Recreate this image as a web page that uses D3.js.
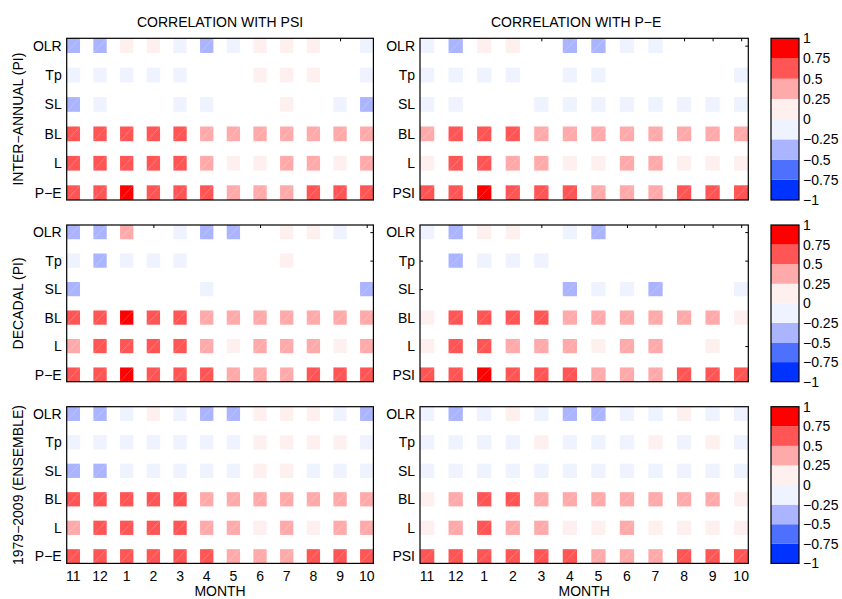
<!DOCTYPE html>
<html>
<head>
<meta charset="utf-8">
<script src="https://cdn.jsdelivr.net/npm/d3@7"></script>
<style>
  body { margin: 0; background: #fff; }
  text { font-family: "Liberation Sans", Arial, sans-serif; fill: #000; }
</style>
</head>
<body>
<svg id="chart" width="842" height="599"></svg>
<script>
// ---- data ----
const months = ["11", "12", "1", "2", "3", "4", "5", "6", "7", "8", "9", "10"];
const rowsPsi = ["OLR", "Tp", "SL", "BL", "L", "P\u2212E"];
const rowsPe = ["OLR", "Tp", "SL", "BL", "L", "PSI"];
const colTitles = ["CORRELATION WITH PSI", "CORRELATION WITH P\u2212E"];
const rowTitles = ["INTER\u2212ANNUAL (PI)", "DECADAL (PI)", "1979\u22122009 (ENSEMBLE)"];
const cbTicks = [1, 0.75, 0.5, 0.25, 0, -0.25, -0.5, -0.75, -1];
const cbColors = ["#0033ff", "#4d70ff", "#aab4ff", "#eff2ff", "#fff0f0", "#ffaaaa", "#ff5555", "#ff0000"];

// correlation values, rows OLR..P-E/PSI, columns months 11..10 (null = blank)
const interPsi = [
  [-0.35, -0.35, 0.1, 0.1, -0.1, -0.35, -0.1, 0.1, 0.1, 0.1, null, -0.1],
  [-0.1, -0.1, -0.1, -0.1, -0.1, null, null, 0.1, 0.1, 0.1, null, -0.1],
  [-0.35, -0.1, null, null, -0.1, -0.1, null, null, 0.1, null, -0.1, -0.35],
  [0.6, 0.6, 0.6, 0.6, 0.6, 0.35, 0.35, 0.35, 0.35, 0.35, 0.35, 0.35],
  [0.6, 0.6, 0.6, 0.6, 0.6, 0.35, 0.1, 0.1, 0.35, 0.35, 0.1, 0.35],
  [0.6, 0.6, 0.85, 0.6, 0.6, 0.6, 0.35, 0.35, 0.35, 0.6, 0.6, 0.6]
];
const interPe = [
  [-0.1, -0.35, 0.1, 0.1, null, -0.35, -0.35, -0.1, -0.1, null, null, null],
  [-0.1, -0.1, -0.1, -0.1, null, -0.1, -0.1, null, null, null, null, -0.1],
  [-0.1, -0.1, null, null, -0.1, -0.1, -0.1, -0.1, -0.1, -0.1, -0.1, -0.1],
  [0.35, 0.6, 0.6, 0.6, 0.35, 0.35, 0.35, 0.35, 0.35, 0.35, 0.35, 0.35],
  [0.1, 0.6, 0.6, 0.35, 0.35, 0.1, 0.1, 0.35, 0.35, 0.1, 0.1, 0.1],
  [0.6, 0.6, 0.85, 0.6, 0.6, 0.6, 0.35, 0.35, 0.35, 0.6, 0.6, 0.6]
];
const decPsi = [
  [-0.35, -0.35, 0.35, null, -0.1, -0.35, -0.35, null, 0.1, 0.1, -0.1, null],
  [-0.1, -0.35, -0.1, -0.1, -0.1, null, null, null, 0.1, null, null, null],
  [-0.35, null, null, null, null, -0.1, null, null, null, null, null, -0.35],
  [0.6, 0.6, 0.85, 0.6, 0.6, 0.35, 0.35, 0.35, 0.35, 0.35, 0.35, 0.35],
  [0.35, 0.6, 0.6, 0.6, 0.6, 0.35, 0.1, 0.35, 0.35, 0.35, 0.1, 0.35],
  [0.6, 0.6, 0.85, 0.6, 0.6, 0.6, 0.35, 0.35, 0.35, 0.6, 0.6, 0.6]
];
const decPe = [
  [-0.1, -0.35, 0.1, 0.1, null, -0.1, -0.35, null, null, null, null, null],
  [null, -0.35, -0.1, -0.1, -0.1, null, null, null, null, null, null, null],
  [null, null, null, null, null, -0.35, -0.1, -0.1, -0.35, null, null, -0.1],
  [0.1, 0.6, 0.6, 0.6, 0.6, 0.35, 0.35, 0.35, 0.35, 0.35, 0.35, 0.1],
  [0.1, 0.6, 0.6, 0.35, 0.35, 0.35, 0.1, 0.35, 0.35, null, 0.1, null],
  [0.6, 0.6, 0.85, 0.6, 0.6, 0.6, 0.35, 0.35, 0.35, 0.6, 0.6, 0.6]
];
const ensPsi = [
  [-0.35, -0.35, -0.1, 0.1, -0.1, -0.35, -0.35, 0.1, 0.1, 0.1, -0.1, -0.35],
  [-0.1, -0.1, -0.1, -0.1, -0.1, -0.1, -0.1, 0.1, 0.1, 0.1, 0.1, -0.1],
  [-0.35, -0.35, -0.1, -0.1, -0.1, -0.1, -0.1, 0.1, 0.1, -0.1, -0.1, -0.1],
  [0.6, 0.6, 0.6, 0.6, 0.6, 0.35, 0.35, 0.35, 0.35, 0.35, 0.35, 0.35],
  [0.35, 0.6, 0.6, 0.6, 0.6, 0.35, 0.35, 0.1, 0.35, 0.1, 0.35, 0.35],
  [0.6, 0.6, 0.6, 0.6, 0.6, 0.6, 0.35, 0.35, 0.35, 0.6, 0.6, 0.6]
];
const ensPe = [
  [-0.1, -0.35, -0.1, 0.1, -0.1, -0.35, -0.35, -0.1, -0.1, 0.1, -0.1, -0.1],
  [-0.1, -0.1, -0.1, -0.1, 0.1, -0.1, -0.1, -0.1, 0.1, -0.1, 0.1, -0.1],
  [-0.1, -0.1, -0.1, -0.1, -0.1, -0.1, -0.1, -0.1, -0.1, -0.1, -0.1, -0.1],
  [0.1, 0.35, 0.6, 0.6, 0.35, 0.35, 0.35, 0.35, 0.35, 0.35, 0.35, 0.1],
  [0.1, 0.35, 0.6, 0.35, 0.35, 0.1, 0.1, 0.35, 0.1, 0.1, 0.1, 0.1],
  [0.6, 0.6, 0.6, 0.6, 0.6, 0.6, 0.35, 0.35, 0.35, 0.6, 0.6, 0.6]
];

const panels = [
  [interPsi, interPe],
  [decPsi, decPe],
  [ensPsi, ensPe]
];

// ---- layout ----
const colX = [66.7, 420];
const colW = [306.7, 328.3];
const rowY = [38.3, 225, 406.7];
const rowH = [161.7, 156.7, 156.7];
const cbX = 771, cbW = 28;
const fs = "14px";

const color = d3.scaleThreshold()
  .domain([-0.75, -0.5, -0.25, 0, 0.25, 0.5, 0.75])
  .range(cbColors);

const svg = d3.select("#chart");

// column titles
colTitles.forEach((t, c) => {
  svg.append("text")
    .attr("x", colX[c] + colW[c] / 2 - (c == 1 ? 8 : 0))
    .attr("y", 27)
    .attr("text-anchor", "middle")
    .style("font-size", fs)
    .text(t);
});

panels.forEach((pair, r) => {
  const top = rowY[r], h = rowH[r];
  const y = d3.scaleLinear().domain([0.75, 6.25]).range([top, top + h]);

  // row title
  svg.append("text")
    .attr("transform", `translate(23,${top + h / 2}) rotate(-90)`)
    .attr("text-anchor", "middle")
    .style("font-size", fs)
    .text(rowTitles[r]);

  pair.forEach((vals, c) => {
    const left = colX[c], w = colW[c];
    const x = d3.scaleLinear().domain([0.75, 12.25]).range([left, left + w]);
    const g = svg.append("g");
    const idx = d3.range(1, 13);
    const ridx = d3.range(1, 7);

    // inward ticks (hidden under cells where present)
    g.append("g").attr("transform", `translate(0,${top})`)
      .call(d3.axisBottom(x).tickValues(idx).tickSize(3).tickFormat(""))
      .call(a => a.select(".domain").remove());
    g.append("g").attr("transform", `translate(0,${top + h})`)
      .call(d3.axisTop(x).tickValues(idx).tickSize(3).tickFormat(""))
      .call(a => a.select(".domain").remove());
    g.append("g").attr("transform", `translate(${left},0)`)
      .call(d3.axisRight(y).tickValues(ridx).tickSize(3).tickFormat(""))
      .call(a => a.select(".domain").remove());
    g.append("g").attr("transform", `translate(${left + w},0)`)
      .call(d3.axisLeft(y).tickValues(ridx).tickSize(3).tickFormat(""))
      .call(a => a.select(".domain").remove());

    // cells
    const cells = [];
    vals.forEach((row, j) => row.forEach((v, i) => {
      if (v !== null) cells.push({ i: i + 1, j: j + 1, v });
    }));
    const cg = g.selectAll("g.cell").data(cells).join("g").attr("class", "cell");
    cg.append("rect")
      .attr("x", d => x(d.i - 0.25))
      .attr("y", d => y(d.j - 0.25))
      .attr("width", x(1.25) - x(0.75))
      .attr("height", y(1.25) - y(0.75))
      .attr("fill", d => color(d.v));
    cg.filter(d => Math.abs(d.v) > 0.25).append("line")
      .attr("x1", d => x(d.i - 0.25))
      .attr("y1", d => y(d.j + 0.25))
      .attr("x2", d => x(d.i + 0.25))
      .attr("y2", d => y(d.j - 0.25))
      .attr("stroke", "#fff")
      .attr("stroke-opacity", 0.3)
      .attr("stroke-width", 0.7);

    // box
    g.append("rect")
      .attr("x", left).attr("y", top)
      .attr("width", w).attr("height", h)
      .attr("fill", "none").attr("stroke", "#000").attr("stroke-width", 1.2);

    // row labels
    const labels = c == 0 ? rowsPsi : rowsPe;
    g.selectAll("text.rl").data(labels).join("text")
      .attr("class", "rl")
      .attr("x", left - 5)
      .attr("y", (d, j) => y(j + 1) + 5)
      .attr("text-anchor", "end")
      .style("font-size", fs)
      .text(d => d);

    // month labels on bottom panels
    if (r == 2) {
      g.selectAll("text.ml").data(months).join("text")
        .attr("class", "ml")
        .attr("x", (d, i) => x(i + 1))
        .attr("y", top + h + 18)
        .attr("text-anchor", "middle")
        .style("font-size", fs)
        .text(d => d);
      g.append("text")
        .attr("x", left + w / 2)
        .attr("y", top + h + 33)
        .attr("text-anchor", "middle")
        .style("font-size", fs)
        .text("MONTH");
    }
  });

  // colorbar
  const cy = d3.scaleLinear().domain([-1, 1]).range([top + h, top]);
  const bins = d3.range(8).map(k => ({ lo: -1 + k * 0.25, hi: -0.75 + k * 0.25, c: cbColors[k] }));
  svg.append("g").selectAll("rect").data(bins).join("rect")
    .attr("x", cbX).attr("width", cbW)
    .attr("y", d => cy(d.hi)).attr("height", d => cy(d.lo) - cy(d.hi))
    .attr("fill", d => d.c);
  svg.append("rect")
    .attr("x", cbX).attr("y", top).attr("width", cbW).attr("height", h)
    .attr("fill", "none").attr("stroke", "#000").attr("stroke-width", 1.2);
  svg.append("g").attr("transform", `translate(${cbX + cbW},0)`)
    .call(d3.axisRight(cy).tickValues(cbTicks).tickSize(0).tickPadding(4).tickFormat(d3.format("")))
    .call(a => a.select(".domain").remove())
    .call(a => a.selectAll("text").style("font-size", fs).attr("font-family", null));
});
</script>
</body>
</html>
